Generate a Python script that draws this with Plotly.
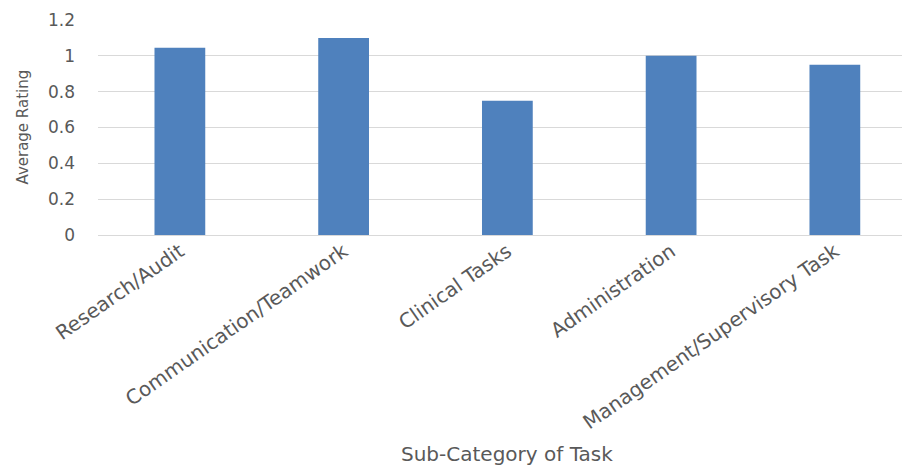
import plotly.graph_objects as go

categories = ["Research/Audit", "Communication/Teamwork", "Clinical Tasks",
              "Administration", "Management/Supervisory Task"]
ratings = [1.045, 1.10, 0.75, 1.0, 0.95]
y_ticks = [0, 0.2, 0.4, 0.6, 0.8, 1.0, 1.2]
y_tick_labels = ["0", "0.2", "0.4", "0.6", "0.8", "1", "1.2"]

fig = go.Figure(go.Bar(
    x=categories, y=ratings,
    marker=dict(color="#4F81BD", line=dict(color="#4F81BD", width=0)),
))

fig.update_layout(
    width=902, height=468,
    margin=dict(l=98, r=0, t=20, b=233, autoexpand=False),
    plot_bgcolor="white", paper_bgcolor="white",
    bargap=0.69,
    showlegend=False,
    font=dict(family="DejaVu Sans", color="#595959", size=17),
    xaxis=dict(
        range=[-0.5, 4.41],
        automargin=False,
        tickangle=-35,
        showgrid=False,
        showline=False,
        ticks="",
        tickfont=dict(size=20, color="#595959"),
    ),
    yaxis=dict(
        range=[0, 1.2],
        automargin=False,
        tickvals=y_ticks, ticktext=y_tick_labels,
        showgrid=True, gridcolor="#d9d9d9", gridwidth=1,
        zeroline=True, zerolinecolor="#d9d9d9", zerolinewidth=1,
        showline=False, ticks="",
        ticklabelstandoff=22,
        tickfont=dict(size=17, color="#595959"),
    ),
    annotations=[
        dict(text="Sub-Category of Task", xref="paper", yref="paper",
             x=0.509, y=0, xanchor="center", yanchor="middle", yshift=-219,
             showarrow=False, font=dict(size=20, color="#595959")),
        dict(text="Average Rating", xref="paper", yref="paper",
             x=0, y=0.5, xanchor="center", yanchor="middle", xshift=-76,
             textangle=-90, showarrow=False,
             font=dict(family="DejaVu Sans", size=15, color="#595959")),
    ],
)

fig.write_html(
    "out.html",
    post_script="document.documentElement.style.overflow='hidden';"
                "document.body.style.overflow='hidden';"
                "document.body.style.margin='0';",
)
